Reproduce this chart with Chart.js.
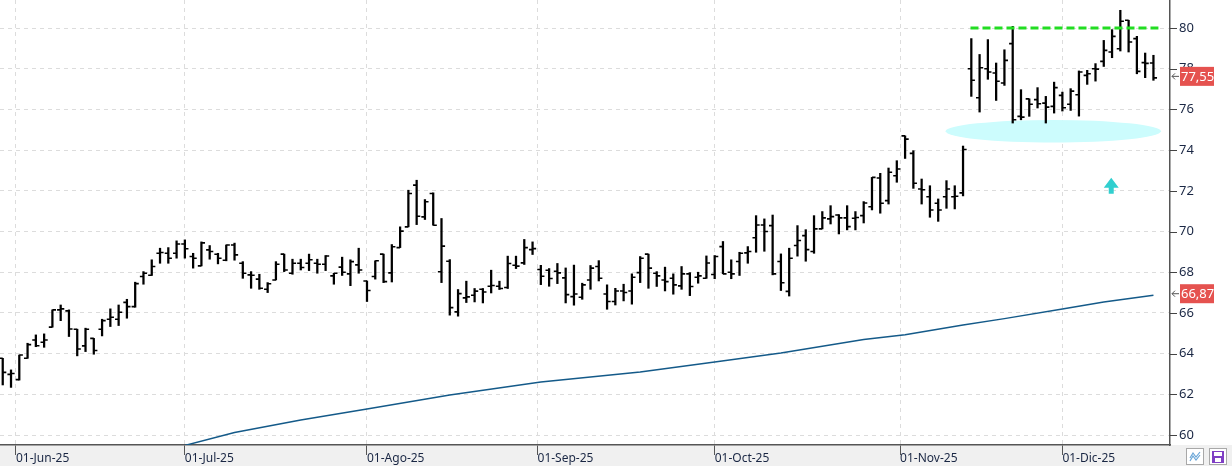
<!DOCTYPE html>
<html>
<head>
<meta charset="utf-8">
<script src="https://cdn.jsdelivr.net/npm/chart.js@4.4.1/dist/chart.umd.min.js"></script>
<style>
  html, body { margin: 0; padding: 0; background: #fff; overflow: hidden; }
  #chart { display: block; }
</style>
</head>
<body>
<canvas id="chart" width="1232" height="466"></canvas>
<script>
// Daily bars 29-May-25 .. 16-Dec-25, one entry per session
const opens = [
  63.77, 62.98, 62.72, 63.77, 64.67, 64.56, 65.30, 66.15, 66.10, 65.20,
  64.38, 64.75, 65.20, 65.69, 65.69, 66.52, 66.31, 67.79, 67.85, 68.93,
  68.93, 68.93, 69.39, 68.77, 68.31, 69.10, 68.88, 68.59, 69.34, 68.44,
  67.87, 67.66, 67.16, 67.62, 68.89, 67.95, 68.44, 68.44, 68.44, 68.39,
  67.82, 68.25, 67.92, 68.36, 67.57, 67.79, 68.89, 67.97, 69.21, 70.23,
  72.28, 70.72, 71.87, 68.02, 68.54, 66.05, 66.74, 66.87, 67.16, 67.31,
  67.31, 67.25, 68.34, 68.46, 69.11, 68.13, 68.10, 68.05, 67.72, 66.80,
  66.77, 67.62, 68.28, 66.93, 66.56, 67.08, 67.08, 67.98, 68.89, 67.95,
  67.62, 67.70, 67.33, 67.92, 67.75, 67.70, 67.89, 69.26, 68.00, 68.53,
  68.95, 69.69, 70.32, 70.29, 68.53, 67.06, 69.31, 69.80, 69.02, 70.13,
  70.62, 70.81, 70.67, 70.65, 70.78, 71.22, 72.63, 71.52, 72.74, 74.70,
  73.84, 72.09, 71.71, 71.39, 71.71, 71.71, 71.90, 78.00, 76.57, 78.00,
  77.79, 77.30, 79.23, 75.66, 76.52, 76.48, 76.31, 76.15, 76.69, 76.25,
  76.72, 77.67, 78.00, 78.36, 78.82, 78.98, 80.38, 79.48, 78.30, 78.28
];
const highs = [
  63.77, 63.20, 63.93, 64.51, 64.92, 64.97, 66.15, 66.39, 66.15, 65.20,
  65.25, 64.75, 65.69, 66.20, 66.39, 66.67, 67.51, 68.03, 68.61, 69.18,
  69.21, 69.54, 69.59, 68.93, 69.49, 69.31, 68.93, 69.34, 69.43, 68.52,
  68.03, 67.90, 67.49, 68.52, 68.89, 68.64, 68.64, 68.89, 68.64, 68.82,
  67.95, 68.74, 68.61, 69.18, 67.57, 68.56, 68.89, 69.36, 70.23, 72.03,
  72.52, 71.57, 71.90, 70.64, 68.62, 67.15, 67.56, 67.20, 67.20, 68.10,
  67.56, 68.79, 68.79, 69.61, 69.49, 68.34, 68.18, 68.43, 68.21, 68.35,
  67.46, 68.33, 68.57, 67.38, 67.21, 67.41, 67.92, 68.77, 68.89, 68.03,
  68.25, 67.92, 68.28, 67.98, 68.00, 68.80, 68.82, 69.51, 68.61, 68.98,
  69.26, 70.78, 70.62, 70.81, 68.90, 69.18, 70.29, 70.09, 70.78, 70.98,
  71.27, 70.83, 71.27, 70.98, 71.47, 72.66, 72.86, 73.12, 73.48, 74.70,
  73.97, 72.58, 72.25, 71.60, 72.50, 72.25, 74.20, 79.48, 78.70, 79.43,
  78.28, 78.93, 80.08, 76.97, 76.52, 77.07, 76.64, 77.34, 76.85, 77.02,
  77.89, 77.92, 78.25, 79.39, 79.92, 80.87, 80.38, 79.59, 78.77, 78.66
];
const lows = [
  62.46, 62.34, 62.70, 63.77, 64.34, 64.31, 65.30, 65.62, 64.84, 63.89,
  64.10, 63.97, 64.87, 65.33, 65.38, 65.74, 66.28, 67.41, 67.84, 68.44,
  68.44, 68.69, 68.69, 68.20, 68.31, 68.64, 68.41, 68.56, 68.59, 67.70,
  67.21, 67.16, 67.00, 67.62, 68.03, 67.90, 68.11, 68.08, 67.95, 68.08,
  67.41, 67.84, 67.34, 67.95, 66.56, 67.66, 67.49, 67.52, 69.21, 70.23,
  70.34, 70.59, 70.31, 67.49, 65.89, 65.84, 66.51, 66.54, 66.49, 66.98,
  67.15, 67.20, 68.18, 68.38, 68.87, 67.39, 67.31, 67.44, 66.49, 66.38,
  66.67, 67.16, 67.57, 66.18, 66.39, 66.59, 66.43, 67.49, 67.21, 67.30,
  67.08, 66.92, 67.16, 66.85, 67.46, 67.70, 67.68, 67.92, 67.68, 67.84,
  68.44, 68.98, 69.03, 67.87, 67.10, 66.83, 68.79, 68.54, 68.93, 70.13,
  70.37, 69.88, 70.08, 70.08, 70.42, 71.06, 70.90, 71.35, 72.42, 73.59,
  72.12, 71.35, 70.70, 70.50, 71.14, 71.11, 71.75, 76.64, 75.87, 77.48,
  76.44, 77.18, 75.33, 75.49, 75.66, 76.07, 75.33, 75.82, 75.92, 75.95,
  75.67, 77.23, 77.39, 78.11, 78.54, 78.87, 78.82, 77.75, 77.56, 77.43
];
const closes = [
  63.08, 63.02, 63.93, 64.44, 64.39, 64.67, 66.15, 66.20, 65.21, 64.23,
  65.20, 64.15, 65.62, 65.79, 66.03, 66.31, 67.44, 67.95, 68.28, 68.97,
  68.69, 69.39, 69.15, 68.69, 69.44, 69.02, 68.69, 69.34, 68.85, 67.95,
  67.85, 67.21, 67.43, 68.39, 68.11, 68.44, 68.23, 68.61, 68.39, 68.80,
  67.95, 68.00, 68.52, 68.11, 67.10, 68.56, 67.54, 69.25, 70.02, 71.87,
  70.75, 71.46, 70.31, 69.28, 66.26, 66.95, 66.79, 67.07, 67.03, 67.35,
  67.20, 68.43, 68.30, 69.21, 69.16, 67.80, 67.69, 67.97, 66.90, 66.93,
  67.38, 68.20, 67.70, 66.56, 67.08, 67.00, 67.75, 68.69, 68.20, 67.82,
  67.54, 67.38, 67.92, 67.30, 67.82, 68.45, 68.77, 67.92, 67.92, 68.93,
  69.02, 70.32, 70.00, 67.92, 67.48, 68.69, 69.56, 69.11, 70.13, 70.67,
  70.73, 70.67, 70.24, 70.69, 71.40, 72.66, 71.39, 72.91, 73.07, 74.54,
  72.37, 72.05, 71.06, 71.06, 72.09, 71.73, 74.03, 77.43, 78.05, 77.84,
  77.38, 78.41, 75.49, 75.62, 76.25, 76.28, 76.11, 77.07, 76.08, 76.90,
  77.84, 77.75, 77.98, 78.90, 79.59, 80.33, 79.31, 77.87, 78.26, 77.55
];

// long moving average, read at a few sessions (bar index -> value)
const maIdx = [22, 28, 36, 44, 54, 65, 77, 86, 94, 104, 109, 116, 121, 128, 133, 139];
const maVal = [59.49, 60.12, 60.74, 61.28, 61.97, 62.61, 63.10, 63.59, 64.03, 64.69, 64.93, 65.41, 65.72, 66.19, 66.54, 66.87];

// month labels and the session index where each month starts
const monthLabels = ['01-Jun-25', '01-Jul-25', '01-Ago-25', '01-Sep-25', '01-Oct-25', '01-Nov-25', '01-Dic-25'];
const monthAt = [1.6, 22, 44, 64.6, 86, 108.4, 128];

// drawn studies
const resistance = { from: 116.9, to: 139.6, level: 80 };
const supportZone = { xMin: 113.9, xMax: 139.9, yMin: 74.37, yMax: 75.48 };
const upArrow = { at: 133.9, tip: 72.64, base: 71.86 };

const yMin = 59.51, yMax = 81.376;
const fmt = v => v.toFixed(2).replace('.', ',');

const backdrop = {
  id: 'backdrop',
  beforeDraw(chart) {
    const { ctx, chartArea } = chart;
    ctx.save();
    ctx.fillStyle = '#ffffff';
    ctx.fillRect(0, 0, chart.width, chart.height);
    ctx.fillStyle = '#f0f0f0';
    ctx.fillRect(0, chartArea.bottom, chart.width, chart.height - chartArea.bottom);
    ctx.restore();
  }
};

const zone = {
  id: 'zone',
  beforeDatasetsDraw(chart) {
    const { ctx, scales: { x, y } } = chart;
    const x1 = x.getPixelForValue(supportZone.xMin), x2 = x.getPixelForValue(supportZone.xMax);
    const y1 = y.getPixelForValue(supportZone.yMax), y2 = y.getPixelForValue(supportZone.yMin);
    ctx.save();
    ctx.fillStyle = '#ccfcfd';
    ctx.beginPath();
    ctx.ellipse((x1 + x2) / 2, (y1 + y2) / 2, (x2 - x1) / 2, (y2 - y1) / 2, 0, 0, Math.PI * 2);
    ctx.fill();
    ctx.restore();
  }
};

// open / close ticks on the high-low bars
const ohlcTicks = {
  id: 'ohlcTicks',
  afterDatasetDraw(chart, args) {
    if (args.meta.type !== 'bar') return;
    const { ctx, scales: { x, y } } = chart;
    ctx.save();
    ctx.strokeStyle = '#000';
    ctx.lineWidth = 1.6;
    ctx.beginPath();
    closes.forEach((c, i) => {
      const px = x.getPixelForValue(i);
      const po = y.getPixelForValue(opens[i]);
      const pc = y.getPixelForValue(c);
      ctx.moveTo(px - 3.6, po); ctx.lineTo(px, po);
      ctx.moveTo(px, pc); ctx.lineTo(px + 3.6, pc);
    });
    ctx.stroke();
    ctx.restore();
  }
};

const extras = {
  id: 'extras',
  afterDraw(chart) {
    const { ctx, chartArea, scales: { x, y } } = chart;
    ctx.save();

    // up arrow
    const ax = x.getPixelForValue(upArrow.at);
    const tip = y.getPixelForValue(upArrow.tip);
    const base = y.getPixelForValue(upArrow.base);
    const head = tip + (base - tip) * 0.62;
    ctx.fillStyle = '#31cfcf';
    ctx.beginPath();
    ctx.moveTo(ax, tip);
    ctx.lineTo(ax + 7.5, head);
    ctx.lineTo(ax + 2.5, head);
    ctx.lineTo(ax + 2.5, base);
    ctx.lineTo(ax - 2.5, base);
    ctx.lineTo(ax - 2.5, head);
    ctx.lineTo(ax - 7.5, head);
    ctx.closePath();
    ctx.fill();

    // y tick marks
    ctx.strokeStyle = '#444';
    ctx.lineWidth = 1;
    ctx.beginPath();
    y.ticks.forEach(t => {
      const py = Math.round(y.getPixelForValue(t.value)) + 0.5;
      const len = t.value % 2 === 0 ? 7 : 4;
      ctx.moveTo(chartArea.right, py);
      ctx.lineTo(chartArea.right + len, py);
    });
    ctx.stroke();

    // last value tags
    const tag = (val) => {
      const py = y.getPixelForValue(val) - 1.5;
      const bx = chartArea.right + 10;
      ctx.fillStyle = '#e5524f';
      ctx.fillRect(bx, py - 9.5, 34, 19);
      ctx.fillStyle = '#ffffff';
      ctx.font = '13px "Noto Sans"';
      ctx.textAlign = 'left';
      ctx.textBaseline = 'middle';
      ctx.fillText(fmt(val), bx + 1, py + 0.5);
      ctx.strokeStyle = '#555';
      ctx.lineWidth = 1;
      ctx.beginPath();
      ctx.moveTo(chartArea.right + 9, py);
      ctx.lineTo(chartArea.right + 2, py);
      ctx.moveTo(chartArea.right + 5, py - 3);
      ctx.lineTo(chartArea.right + 2, py);
      ctx.lineTo(chartArea.right + 5, py + 3);
      ctx.stroke();
    };
    tag(closes[closes.length - 1]);
    tag(maVal[maVal.length - 1]);

    // toolbar buttons
    const b1 = chart.width - 46, b2 = chart.width - 23, by = chartArea.bottom + 3;
    ctx.fillStyle = '#ffffff';
    ctx.strokeStyle = '#a8a8a8';
    ctx.fillRect(b1, by, 18, 17);
    ctx.strokeRect(b1 + 0.5, by + 0.5, 17, 16);
    ctx.fillRect(b2, by, 18, 17);
    ctx.strokeRect(b2 + 0.5, by + 0.5, 17, 16);
    ctx.strokeStyle = '#6aa6d8';
    ctx.lineWidth = 1.2;
    ctx.beginPath();
    ctx.moveTo(b1 + 4, by + 10); ctx.lineTo(b1 + 7, by + 5); ctx.lineTo(b1 + 10, by + 9); ctx.lineTo(b1 + 14, by + 4);
    ctx.moveTo(b1 + 4, by + 13); ctx.lineTo(b1 + 7, by + 8); ctx.lineTo(b1 + 10, by + 12); ctx.lineTo(b1 + 14, by + 7);
    ctx.stroke();
    ctx.fillStyle = '#7f3fc4';
    ctx.fillRect(b2 + 3, by + 3, 12, 12);
    ctx.fillStyle = '#ffffff';
    ctx.fillRect(b2 + 5, by + 4, 8, 4);
    ctx.fillRect(b2 + 6, by + 10, 6, 4);
    ctx.restore();
  }
};

const ctx = document.getElementById('chart');
new Chart(ctx, {
  type: 'bar',
  data: {
    datasets: [
      {
        type: 'line',
        data: [{ x: resistance.from, y: resistance.level }, { x: resistance.to, y: resistance.level }],
        borderColor: '#22dd22',
        borderWidth: 3,
        borderDash: [8, 4],
        pointRadius: 0,
        order: 0
      },
      {
        type: 'bar',
        data: closes.map((c, i) => ({ x: i, y: [lows[i], highs[i]] })),
        backgroundColor: '#000000',
        barThickness: 1.6,
        order: 1
      },
      {
        type: 'line',
        data: maIdx.map((v, i) => ({ x: v, y: maVal[i] })),
        borderColor: '#145a89',
        borderWidth: 1.5,
        pointRadius: 0,
        tension: 0,
        order: 2
      }
    ]
  },
  options: {
    responsive: false,
    animation: false,
    events: [],
    layout: { padding: 0 },
    plugins: { legend: { display: false }, tooltip: { enabled: false } },
    scales: {
      x: {
        type: 'linear',
        offset: false,
        min: -0.33,
        max: 141.0,
        afterBuildTicks: s => { s.ticks = monthAt.map(v => ({ value: v })); },
        afterFit: s => { s.height = 21; s.paddingLeft = 0; s.paddingRight = 0; },
        ticks: {
          callback: (v, i) => monthLabels[i],
          align: 'start',
          autoSkip: false,
          maxRotation: 0,
          padding: -4,
          color: '#1a2744',
          font: { family: 'Noto Sans', size: 12 }
        },
        grid: { offset: false, color: '#dcdcdc', lineWidth: 1, tickLength: 10, tickColor: '#555', tickBorderDash: [], tickWidth: 1 },
        border: { color: '#555', width: 1.5, dash: [4, 4] }
      },
      y: {
        position: 'right',
        min: yMin,
        max: yMax,
        afterBuildTicks: s => {
          const t = [];
          for (let v = 60; v <= 81; v += 0.5) t.push({ value: v });
          s.ticks = t;
        },
        afterFit: s => { s.width = 62; s.paddingTop = 0; s.paddingBottom = 0; },
        ticks: {
          callback: v => (v % 2 === 0 ? String(v) : null),
          autoSkip: false,
          padding: 9,
          color: '#1a2744',
          font: { family: 'Noto Sans', size: 13 }
        },
        grid: {
          color: c => (c.tick && c.tick.value % 2 === 0 ? '#dcdcdc' : 'rgba(0,0,0,0)'),
          drawTicks: false
        },
        border: { color: '#555', width: 1.5, dash: [4, 4] }
      }
    }
  },
  plugins: [backdrop, zone, ohlcTicks, extras]
});
</script>
</body>
</html>
